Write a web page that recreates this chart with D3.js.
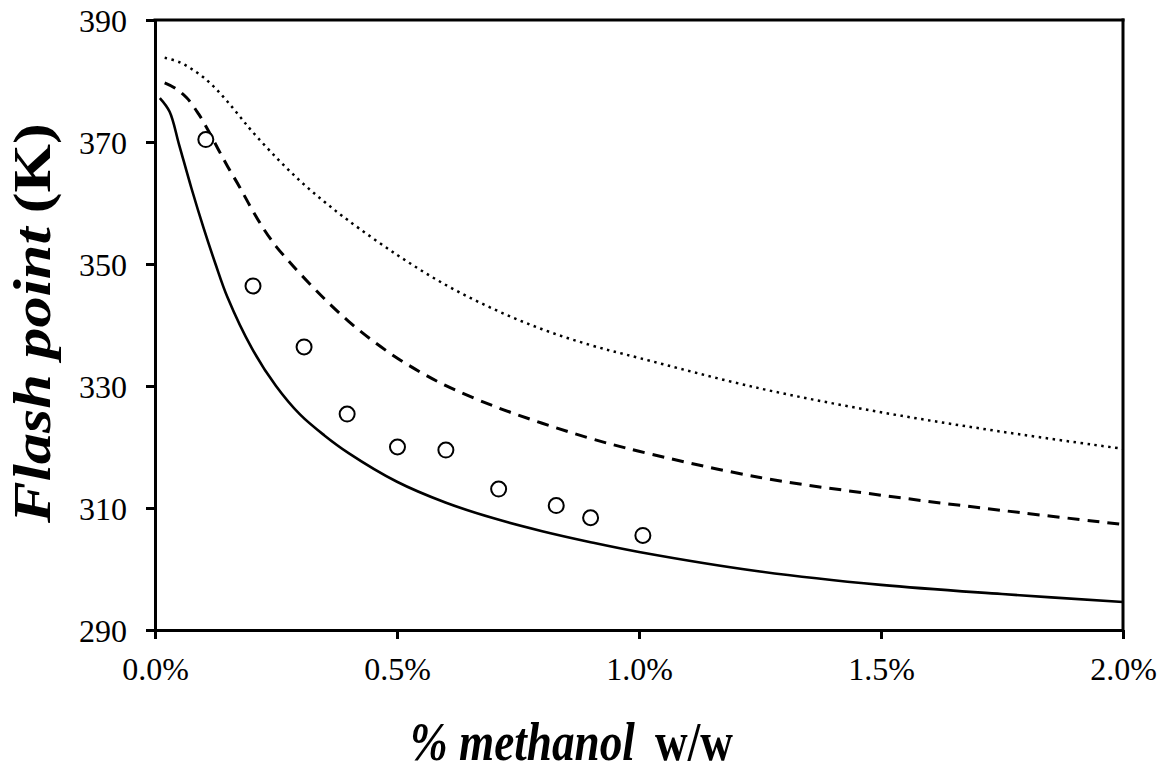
<!DOCTYPE html>
<html>
<head>
<meta charset="utf-8">
<script src="https://cdn.jsdelivr.net/npm/d3@7"></script>
<style>
  html, body { margin: 0; padding: 0; background: #fff; }
  svg { display: block; }
  text { font-family: "Liberation Serif", "Times New Roman", serif; fill: #000; }
</style>
</head>
<body>
<svg id="chart" width="1170" height="772"></svg>
<script>
// ---- data (x in % methanol w/w, y in K) ----
const xTicks = [0, 0.5, 1.0, 1.5, 2.0];
const yTicks = [290, 310, 330, 350, 370, 390];

const solidX = [0.01, 0.03, 0.05, 0.075, 0.1, 0.125, 0.15, 0.2, 0.25, 0.3, 0.35, 0.4, 0.5, 0.6, 0.7, 0.8, 0.9, 1.0, 1.25, 1.5, 1.75, 2.0];
const solidY = [377.2, 375.0, 369.5, 362.5, 356.0, 350.0, 344.5, 336.2, 330.0, 325.3, 321.9, 319.0, 314.3, 310.9, 308.3, 306.2, 304.4, 302.8, 299.6, 297.4, 295.9, 294.6];

const dashedX = [0.02, 0.04, 0.065, 0.09, 0.11, 0.13, 0.15, 0.175, 0.2, 0.225, 0.25, 0.275, 0.3, 0.35, 0.4, 0.45, 0.5, 0.55, 0.6, 0.7, 0.8, 0.9, 1.0, 1.25, 1.5, 1.75, 2.0];
const dashedY = [379.7, 378.9, 377.3, 374.6, 371.9, 368.9, 366.0, 362.6, 359.0, 355.7, 352.9, 350.6, 348.4, 344.3, 340.6, 337.4, 334.6, 332.2, 330.1, 326.7, 323.9, 321.4, 319.3, 315.0, 312.1, 309.6, 307.3];

const dottedX = [0.02, 0.05, 0.075, 0.1, 0.125, 0.15, 0.175, 0.2, 0.25, 0.3, 0.35, 0.4, 0.5, 0.6, 0.7, 0.8, 0.9, 1.0, 1.25, 1.5, 1.75, 2.0];
const dottedY = [383.8, 383.1, 382.0, 380.6, 378.8, 376.6, 374.2, 371.8, 367.5, 363.6, 360.2, 357.1, 351.5, 346.6, 342.6, 339.3, 336.7, 334.6, 329.6, 325.7, 322.5, 319.7];

const obsX = [0.105, 0.2025, 0.308, 0.397, 0.501, 0.601, 0.71, 0.829, 0.9, 1.008];
const obsY = [370.4, 346.4, 336.4, 325.4, 320.0, 319.5, 313.1, 310.4, 308.4, 305.5];

// ---- layout ----
const svg = d3.select("#chart");
const L = 155, R = 1123, T = 20, B = 630;

const x = d3.scaleLinear().domain([0, 2.0]).range([L, R]);
const y = d3.scaleLinear().domain([290, 390]).range([B, T]);

// box top & right
svg.append("line").attr("x1", L).attr("x2", R).attr("y1", T).attr("y2", T)
  .attr("stroke", "#000").attr("stroke-width", 3).attr("stroke-linecap", "square");
svg.append("line").attr("x1", R).attr("x2", R).attr("y1", T).attr("y2", B)
  .attr("stroke", "#000").attr("stroke-width", 3).attr("stroke-linecap", "square");

// axes
const fmtX = d => d3.format(".1f")(d) + "%";
const gx = svg.append("g").attr("transform", `translate(0,${B})`)
  .call(d3.axisBottom(x).tickValues(xTicks).tickFormat(fmtX).tickSize(9).tickSizeOuter(0).tickPadding(18));
const gy = svg.append("g").attr("transform", `translate(${L},0)`)
  .call(d3.axisLeft(y).tickValues(yTicks).tickFormat(d3.format("d")).tickSize(9).tickSizeOuter(0).tickPadding(19));

[gx, gy].forEach(g => {
  g.select(".domain").attr("stroke-width", 3).attr("stroke", "#000");
  g.selectAll(".tick line").attr("stroke-width", 3).attr("stroke", "#000");
  g.selectAll(".tick text").attr("font-family", "Liberation Serif").attr("font-size", 32).attr("fill", "#000");
});
gy.selectAll(".tick text").attr("dy", "0.36em");

// lines
const line = d3.line().x(d => x(d[0])).y(d => y(d[1])).curve(d3.curveCatmullRom.alpha(0.5));
const zip = (a, b) => a.map((v, i) => [v, b[i]]);

svg.append("path").datum(zip(dottedX, dottedY)).attr("d", line)
  .attr("fill", "none").attr("stroke", "#000").attr("stroke-width", 2.5)
  .attr("stroke-dasharray", "2.5,4.5");
svg.append("path").datum(zip(dashedX, dashedY)).attr("d", line)
  .attr("fill", "none").attr("stroke", "#000").attr("stroke-width", 3)
  .attr("stroke-dasharray", "12,8");
svg.append("path").datum(zip(solidX, solidY)).attr("d", line)
  .attr("fill", "none").attr("stroke", "#000").attr("stroke-width", 2.6);

// observed points
svg.append("g").selectAll("circle").data(zip(obsX, obsY)).join("circle")
  .attr("cx", d => x(d[0])).attr("cy", d => y(d[1])).attr("r", 7.5)
  .attr("fill", "#fff").attr("stroke", "#000").attr("stroke-width", 2);

// x title (measured, then fitted to the reference width)
const xt = svg.append("text").attr("font-size", 54).attr("font-weight", "bold");
xt.append("tspan").attr("font-style", "italic").text("% methanol");
xt.append("tspan").attr("dx", 24).text("w/w");
const xw = xt.node().getBBox().width;
xt.attr("transform", `translate(410,760) scale(${323 / xw},1)`);

// y title
const yt = svg.append("text").attr("font-size", 53).attr("font-weight", "bold");
yt.append("tspan").attr("font-style", "italic").text("Flash point");
yt.append("tspan").attr("dx", 12).text("(K)");
const yw = yt.node().getBBox().width;
yt.attr("transform", `translate(50,523) rotate(-90) scale(${401 / yw},1)`);
</script>
</body>
</html>
